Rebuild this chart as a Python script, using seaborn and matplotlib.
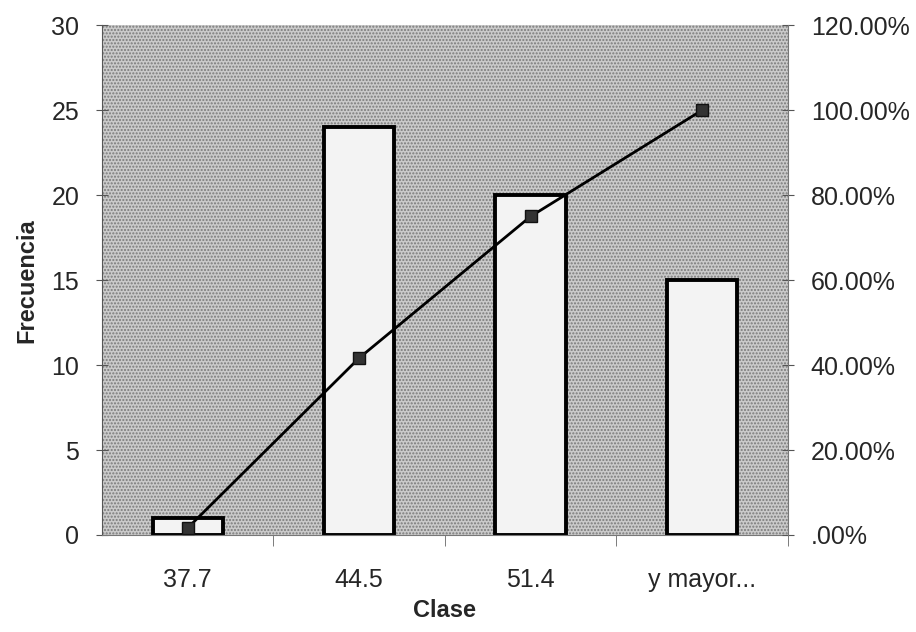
import numpy as np
import pandas as pd
import matplotlib
matplotlib.use("Agg")
import matplotlib.pyplot as plt
import seaborn as sns
from matplotlib.patches import Rectangle
from matplotlib.ticker import FuncFormatter

# Data
clases = ["37.7", "44.5", "51.4", "y mayor..."]
frecuencia = [1, 24, 20, 15]
acumulado = [0.0167, 0.4167, 0.75, 1.0]   # cumulative %

sns.set_style("ticks")
plt.rcParams['font.family'] = ['Liberation Sans', 'DejaVu Sans']
plt.rcParams['hatch.linewidth'] = 1.0

fig = plt.figure(figsize=(9.16, 6.32), dpi=100)
ax = fig.add_axes([0.1114, 0.1535, 0.7486, 0.8065])
ax.patch.set_visible(False)

# Stippled gray background of the plot area
bg = Rectangle((0, 0), 1, 1, transform=ax.transAxes, facecolor='#cacaca',
               edgecolor='#7a7a7a', hatch='.....', lw=0, zorder=0)
ax.add_patch(bg)

df = pd.DataFrame({'Clase': clases, 'Frecuencia': frecuencia})
sns.barplot(data=df, x='Clase', y='Frecuencia', ax=ax, color='#f3f3f3',
            saturation=1, width=0.41, edgecolor='black', linewidth=2.8, zorder=2)

ax.set_xlim(-0.5, 3.5)
ax.set_ylim(0, 30)
ax.set_yticks(range(0, 31, 5))
ax.set_xticks(range(len(clases)))
ax.set_xticklabels(clases)
ax.set_xticks([0.5, 1.5, 2.5, 3.5], minor=True)
ax.tick_params(axis='x', which='major', length=0, labelsize=18, pad=24)
ax.tick_params(axis='x', which='minor', length=8, direction='out', color='#666')
ax.tick_params(axis='y', length=9, direction='inout', color='#555', labelsize=18, pad=12)
ax.set_xlabel('Clase', fontsize=17, fontweight='bold', labelpad=5)
ax.set_ylabel('Frecuencia', fontsize=17, fontweight='bold', labelpad=9)

ax.spines['top'].set_visible(False)
ax.spines['left'].set_color('#555')
ax.spines['bottom'].set_color('#777')
ax.spines['right'].set_visible(False)

# Cumulative percentage on secondary axis
ax2 = ax.twinx()
ax2.plot(np.arange(len(clases)), acumulado, color='black', lw=2,
         marker='s', markersize=8, markerfacecolor='#333',
         markeredgecolor='#111', zorder=5)
ax2.set_ylim(0, 1.2)
ax2.set_yticks(np.arange(0, 1.21, 0.2))


def pct(v, _):
    s = f"{v * 100:.2f}%"
    return s[1:] if s.startswith('0') else s


ax2.yaxis.set_major_formatter(FuncFormatter(pct))
ax2.tick_params(axis='y', length=9, direction='inout', color='#555', labelsize=18, pad=12)
ax2.spines['top'].set_visible(False)
ax2.spines['left'].set_visible(False)
ax2.spines['bottom'].set_visible(False)
ax2.spines['right'].set_color('#777')

fig.savefig("out.png", dpi=100)
